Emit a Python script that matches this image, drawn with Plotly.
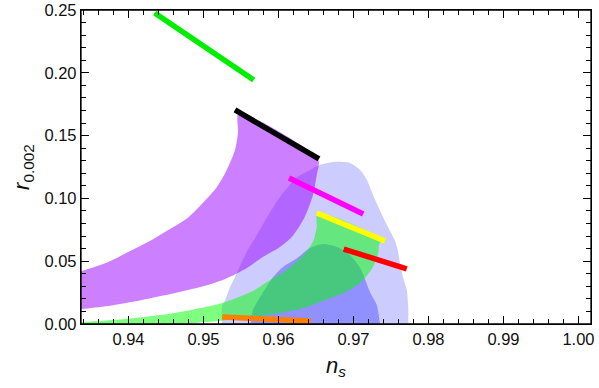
import plotly.graph_objects as go

# ---- contour regions (n_s, r) ----
planck2_ns = [0.9525, 0.9525, 0.9529, 0.9535, 0.9542, 0.9559, 0.9569, 0.9585, 0.9602, 0.9625,
              0.9642, 0.9655, 0.9673, 0.9695, 0.9709, 0.9718, 0.9725, 0.9735, 0.9746, 0.9755,
              0.9759, 0.9762, 0.9766, 0.9771, 0.9773, 0.9773]
planck2_r = [-0.005, 0.0143, 0.0191, 0.0287, 0.0374, 0.0589, 0.0685, 0.0852, 0.1011, 0.1170,
             0.1226, 0.1266, 0.1290, 0.1282, 0.1226, 0.1146, 0.1043, 0.0908, 0.0772, 0.0669,
             0.0589, 0.0486, 0.0374, 0.0271, 0.0135, -0.005]

planck1_ns = [0.9562, 0.9566, 0.9579, 0.9593, 0.9606, 0.9625, 0.9642, 0.9659, 0.9678, 0.9695,
              0.9709, 0.9722, 0.9731, 0.9735, 0.9735]
planck1_r = [-0.005, 0.0111, 0.0247, 0.0374, 0.0454, 0.0525, 0.0605, 0.0637, 0.0613, 0.0549,
             0.0446, 0.0255, 0.0151, 0.0016, -0.005]

green_band_ns = [0.9300, 0.9338, 0.9395, 0.9462, 0.9525, 0.9566, 0.9589, 0.9611, 0.9629, 0.9639,
                 0.9647, 0.9651, 0.9652, 0.9743, 0.9735, 0.9733, 0.9726, 0.9713, 0.9695, 0.9673,
                 0.9655, 0.9642, 0.9629, 0.9602, 0.9566, 0.9535, 0.9495, 0.9455, 0.9300]
green_band_r = [0.0005, 0.0016, 0.0040, 0.0088, 0.0167, 0.0263, 0.0350, 0.0430, 0.0525, 0.0589,
                0.0669, 0.0772, 0.0884, 0.0661, 0.0645, 0.0565, 0.0454, 0.0350, 0.0271, 0.0215,
                0.0175, 0.0143, 0.0119, 0.0088, 0.0056, 0.0032, 0.0012, -0.0008, -0.005]

purple_band_ns = [0.9300, 0.9338, 0.9373, 0.9405, 0.9431, 0.9453, 0.9479, 0.9499, 0.9518, 0.9531,
                  0.9542, 0.9546, 0.9547, 0.9653, 0.9651, 0.9646, 0.9635, 0.9619, 0.9602, 0.9579,
                  0.9558, 0.9529, 0.9506, 0.9462, 0.9418, 0.9373, 0.9338, 0.9300]
purple_band_r = [0.0350, 0.0422, 0.0494, 0.0589, 0.0669, 0.0748, 0.0844, 0.0963, 0.1091, 0.1226,
                 0.1385, 0.1521, 0.1680, 0.1310, 0.1186, 0.1027, 0.0852, 0.0701, 0.0613, 0.0533,
                 0.0446, 0.0358, 0.0311, 0.0247, 0.0191, 0.0143, 0.0119, 0.0095]

# ---- model prediction segments ----
green_line_ns = [0.9435, 0.9567]
green_line_r = [0.2476, 0.1943]
black_line_ns = [0.9542, 0.9654]
black_line_r = [0.1704, 0.1314]
magenta_line_ns = [0.9614, 0.9713]
magenta_line_r = [0.1162, 0.0876]
yellow_line_ns = [0.9651, 0.9742]
yellow_line_r = [0.0884, 0.0661]
red_line_ns = [0.9687, 0.9771]
red_line_r = [0.0597, 0.0438]
orange_line_ns = [0.9525, 0.9643]
orange_line_r = [0.0056, 0.0024]

x_ticks = [0.94, 0.95, 0.96, 0.97, 0.98, 0.99, 1.00]
y_ticks = [0.00, 0.05, 0.10, 0.15, 0.20, 0.25]
x_range = [0.93367, 1.00167]
y_range = [0, 0.25]

FONT = "Liberation Sans, Arial, sans-serif"

fig = go.Figure()

def region(xs, ys, color):
    fig.add_trace(go.Scatter(x=xs, y=ys, fill="toself", fillcolor=color, mode="lines",
                             line=dict(width=0, color=color, shape="spline", smoothing=0.7),
                             hoverinfo="skip", showlegend=False))

region(planck2_ns, planck2_r, "#ccccff")
region(planck1_ns, planck1_r, "#9090ff")
region(green_band_ns, green_band_r, "rgba(0,255,0,0.5)")
region(purple_band_ns, purple_band_r, "rgba(153,0,255,0.5)")

def seg(xs, ys, color):
    fig.add_trace(go.Scatter(x=xs, y=ys, mode="lines", line=dict(width=5.5, color=color),
                             hoverinfo="skip", showlegend=False))

seg(green_line_ns, green_line_r, "#00ee00")
seg(black_line_ns, black_line_r, "#000000")
seg(magenta_line_ns, magenta_line_r, "#ff00ff")
seg(yellow_line_ns, yellow_line_r, "#ffff00")
seg(red_line_ns, red_line_r, "#ff0000")
seg(orange_line_ns, orange_line_r, "#ff8000")

axis_common = dict(showgrid=False, zeroline=False, showline=True, linecolor="#000000", linewidth=1.3,
                   mirror="allticks", ticks="inside", tickcolor="#000000", ticklen=8, tickwidth=1.3,
                   layer="above traces", automargin=False,
                   tickfont=dict(family=FONT, size=16.5, color="#111111"))

fig.update_layout(
    width=599, height=388,
    margin=dict(l=81, r=8, t=10, b=64),
    plot_bgcolor="white", paper_bgcolor="white",
    xaxis=dict(range=x_range, tickmode="array", tickvals=x_ticks, tickformat=".2f",
               minor=dict(ticks="inside", ticklen=5, dtick=0.002, tick0=0.94, tickcolor="#000000",
                          tickwidth=1.2, showgrid=False),
               title=dict(text="<i>n<sub>s</sub></i>", standoff=10,
                          font=dict(family=FONT, size=22, color="#111111")),
               **axis_common),
    yaxis=dict(range=y_range, tickmode="array", tickvals=y_ticks, tickformat=".2f",
               minor=dict(ticks="inside", ticklen=5, dtick=0.01, tick0=0, tickcolor="#000000",
                          tickwidth=1.2, showgrid=False),
               title=dict(text="<i>r</i><sub>0.002</sub>", standoff=8,
                          font=dict(family=FONT, size=22, color="#111111")),
               **axis_common),
)

# plot frame drawn on top as well
fig.add_shape(type="rect", xref="x domain", yref="y domain", x0=0, x1=1, y0=0, y1=1,
              line=dict(color="#000000", width=1.3), fillcolor="rgba(0,0,0,0)", layer="above")

# remove the default page margin so the figure sits at the window's top-left corner
fig.write_html("out.html", config={"displayModeBar": False},
               post_script="document.body.style.margin='0';document.body.style.overflow='hidden';")
